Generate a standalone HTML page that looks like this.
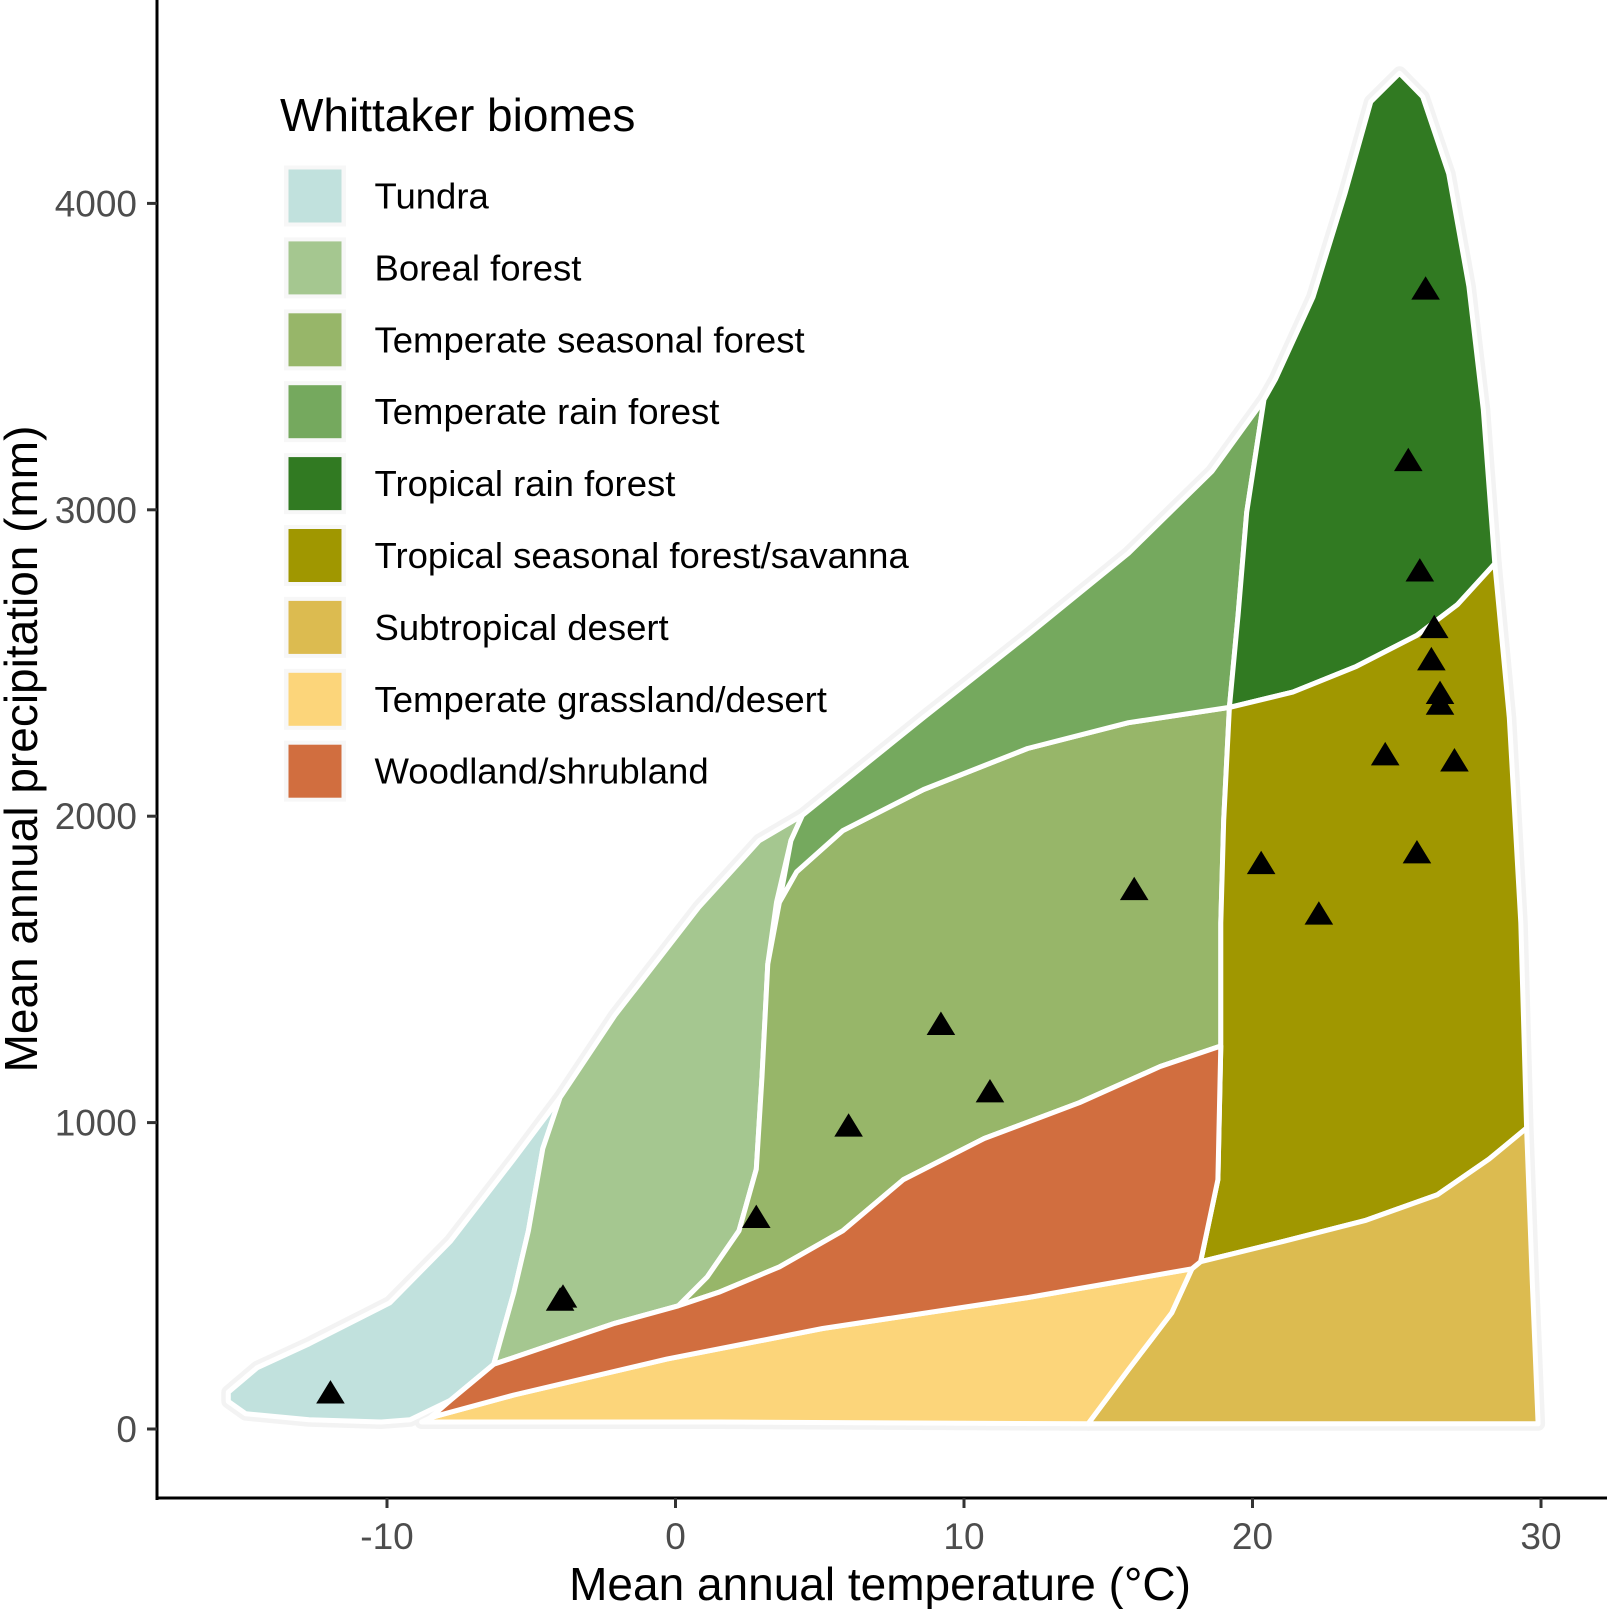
<!DOCTYPE html>
<html><head><meta charset="utf-8"><style>
html,body{margin:0;padding:0;background:#fff;}
svg text{font-family:"Liberation Sans",Arial,sans-serif;}
</style></head><body>
<svg id="chart" width="1607" height="1609" viewBox="0 0 1607 1609" xmlns="http://www.w3.org/2000/svg">
<g id="biomes"></g>
<g id="points"></g>
<g id="axes"></g>
<g id="legend"></g>
</svg>
<script>
const biomeNames = ["Tundra","Boreal forest","Temperate seasonal forest","Temperate rain forest","Tropical rain forest","Tropical seasonal forest/savanna","Subtropical desert","Temperate grassland/desert","Woodland/shrubland"];
const biomeColors = ["#C1E1DD","#A5C790","#97B669","#75A95E","#317A22","#A09700","#DCBB50","#FCD57A","#D16E3F"];
const tundra = [[-15.5,120],[-14.5,200],[-12.7,278],[-9.9,412],[-7.8,613],[-5.6,881],[-4.0,1082],[-4.6,915],[-5.1,647],[-5.6,446],[-6.3,211],[-7.8,94],[-9.2,30],[-10.2,23],[-12.7,30],[-14.9,50],[-15.5,90]];
const boreal = [[-4.0,1082],[-2.1,1350],[0.8,1702],[2.9,1920],[4.4,2003],[4.0,1920],[3.5,1719],[3.2,1518],[3.0,1149],[2.8,848],[2.2,647],[1.1,496],[0.1,402],[-2.1,345],[-4.2,278],[-6.3,211],[-5.6,446],[-5.1,647],[-4.6,915]];
const tempSeasonal = [[3.6,1719],[4.2,1819],[5.8,1953],[8.6,2087],[12.2,2221],[15.7,2305],[19.2,2355],[19.0,1987],[18.9,1652],[18.9,1250],[16.8,1183],[14.0,1065],[10.7,948],[7.9,814],[5.8,647],[3.6,529],[1.5,446],[0.1,402],[1.1,496],[2.2,647],[2.8,848],[3.0,1149],[3.2,1518]];
const tempRain = [[4.4,2003],[8.6,2322],[12.2,2590],[15.7,2858],[18.6,3126],[20.4,3360],[19.8,2992],[19.5,2657],[19.2,2355],[15.7,2305],[12.2,2221],[8.6,2087],[5.8,1953],[4.2,1819],[3.6,1719],[4.0,1920]];
const tropRain = [[20.8,3427],[22.1,3695],[23.2,4030],[24.1,4332],[25.1,4425],[25.9,4348],[26.8,4097],[27.5,3729],[28.0,3327],[28.4,2824],[27.1,2690],[25.7,2590],[23.6,2489],[21.4,2405],[19.2,2355],[19.5,2657],[19.8,2992],[20.4,3360]];
const savanna = [[19.2,2355],[21.4,2405],[23.6,2489],[25.7,2590],[27.1,2690],[28.4,2824],[28.9,2322],[29.3,1652],[29.5,982],[28.2,881],[26.4,764],[23.9,680],[21.1,613],[18.2,546],[18.8,814],[18.9,1250],[18.9,1652],[19.0,1987]];
const subDesert = [[18.2,546],[21.1,613],[23.9,680],[26.4,764],[28.2,881],[29.5,982],[29.7,479],[29.9,17],[14.3,17],[15.7,194],[17.2,379],[17.9,523]];
const grassland = [[-8.5,37],[-5.6,111],[-0.3,228],[5.1,328],[12.2,429],[17.9,523],[17.2,379],[15.7,194],[14.3,17],[1.5,23],[-8.8,23]];
const woodland = [[0.1,402],[1.5,446],[3.6,529],[5.8,647],[7.9,814],[10.7,948],[14.0,1065],[16.8,1183],[18.9,1250],[18.8,814],[18.2,546],[17.9,523],[12.2,429],[5.1,328],[-0.3,228],[-5.6,111],[-8.5,37],[-7.8,94],[-6.3,211],[-4.2,278],[-2.1,345]];
const biomePolys = [tundra,boreal,tempSeasonal,tempRain,tropRain,savanna,subDesert,grassland,woodland];
const pointTemp = [-11.96,-3.9,-4.0,2.8,6.0,9.2,10.9,15.9,20.3,22.3,24.6,25.7,27.0,26.5,26.5,26.2,26.3,25.8,25.4,26.0];
const pointPrecip = [117,430,420,690,988,1320,1100,1760,1845,1680,2200,1880,2180,2365,2400,2510,2615,2800,3160,3720];
const xTicks = [-10,0,10,20,30];
const yTicks = [0,1000,2000,3000,4000];

const NS="http://www.w3.org/2000/svg";
function xs(t){return 675.5+28.85*t;}
function ys(p){return 1429-0.3064*p;}
function mk(tag,attrs,parent){const e=document.createElementNS(NS,tag);for(const k in attrs)e.setAttribute(k,attrs[k]);parent.appendChild(e);return e;}
function pts(poly){return poly.map(d=>xs(d[0]).toFixed(1)+","+ys(d[1]).toFixed(1)).join(" ");}

const gB=document.getElementById("biomes");
biomePolys.forEach((poly)=>{
  const h=mk("polygon",{points:pts(poly),fill:"#f3f3f3",stroke:"#f3f3f3","stroke-width":14,"stroke-linejoin":"round"},gB);
  
  
});
biomePolys.forEach((poly,i)=>{
  const p=mk("polygon",{points:pts(poly),fill:biomeColors[i],stroke:"#ffffff","stroke-width":5,"stroke-linejoin":"round"},gB);
  
  
});

const gP=document.getElementById("points");
pointTemp.forEach((t,i)=>{
  const cx=xs(t), cy=ys(pointPrecip[i]), s=13;
  const tri=mk("polygon",{points:`${cx},${cy-s} ${cx-s*1.1},${cy+s*0.8} ${cx+s*1.1},${cy+s*0.8}`,fill:"#000"},gP);
  
  
});

const gA=document.getElementById("axes");
let yl=mk("line",{x1:157,y1:0,x2:157,y2:1500,stroke:"#000","stroke-width":3},gA);


let xl=mk("line",{x1:155.5,y1:1498,x2:1607,y2:1498,stroke:"#000","stroke-width":3},gA);


xTicks.forEach(v=>{
  const x=xs(v);
  const tk=mk("line",{x1:x,y1:1498,x2:x,y2:1508,stroke:"#333","stroke-width":3},gA);
  
  
  const tx=mk("text",{x:x,y:1549,"text-anchor":"middle","font-size":37,fill:"#4d4d4d"},gA);
  tx.textContent=v;
  
  
});
yTicks.forEach(v=>{
  const y=ys(v);
  const tk=mk("line",{x1:147,y1:y,x2:157,y2:y,stroke:"#333","stroke-width":3},gA);
  
  
  const tx=mk("text",{x:137,y:y+13,"text-anchor":"end","font-size":37,fill:"#4d4d4d"},gA);
  tx.textContent=v;
  
  
});
const xt=mk("text",{x:880,y:1600,"text-anchor":"middle","font-size":46,fill:"#000"},gA);
xt.textContent="Mean annual temperature (°C)";


const yt=mk("text",{x:0,y:0,"text-anchor":"middle","font-size":46,fill:"#000",transform:"translate(37,749) rotate(-90)"},gA);
yt.textContent="Mean annual precipitation (mm)";



const gL=document.getElementById("legend");
const lt=mk("text",{x:280,y:131,"font-size":46,fill:"#000"},gL);
lt.textContent="Whittaker biomes";


biomeNames.forEach((n,i)=>{
  const y=169.5+i*71.9;
  const bg=mk("rect",{x:284,y:y-4,width:62,height:61,fill:"#f7f7f7"},gL);
  
  
  const r=mk("rect",{x:288.5,y:y,width:53,height:53,fill:biomeColors[i]},gL);
  
  
  const t=mk("text",{x:374.5,y:y+39,"font-size":36.5,fill:"#000"},gL);
  t.textContent=n;
  
  
});
</script>
</body></html>
